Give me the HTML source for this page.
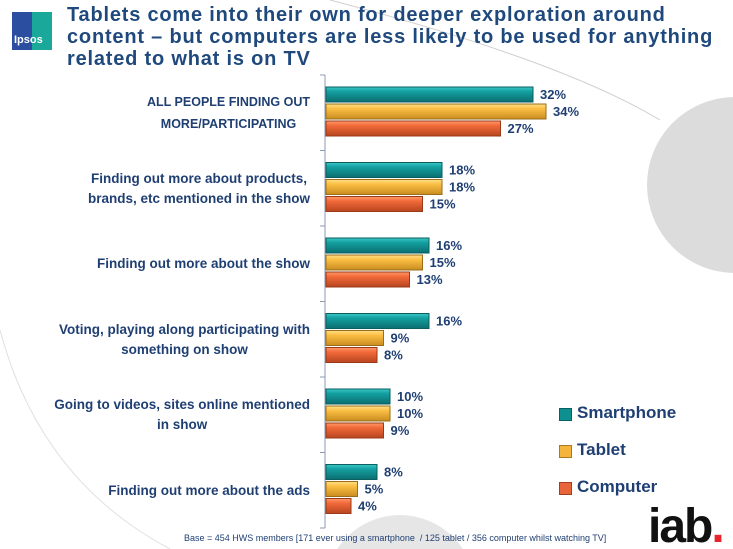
<!DOCTYPE html>
<html><head><meta charset="utf-8"><style>
body{margin:0;width:733px;height:549px;overflow:hidden;background:#fff;font-family:"Liberation Sans",sans-serif;position:relative}
.t{position:absolute;color:#1f3f73;font-weight:bold}
</style></head><body>
<svg width="733" height="549" style="position:absolute;left:0;top:0">
<circle cx="735" cy="185" r="88" fill="#dcdcdc"/>
<circle cx="400" cy="590" r="75" fill="#e6e6e6"/>
<path d="M330 0 Q560 60 660 120" stroke="#d0d0d0" fill="none" stroke-width="1"/>
<path d="M0 330 Q40 480 170 549" stroke="#e0e0e0" fill="none" stroke-width="1"/>
</svg>
<div style="position:absolute;left:12px;top:12px;width:40px;height:38px;background:linear-gradient(90deg,#2b4ea0 50%,#1aa89a 50%)"><span style="position:absolute;left:2px;top:22px;color:#fff;font-size:11px;font-weight:bold">Ipsos</span></div>
<div class="t" style="left:67px;top:4px;font-size:20px;letter-spacing:0.8px;line-height:22px;color:#1f497d;white-space:nowrap">Tablets come into their own for deeper exploration around<br>content – but computers are less likely to be used for anything<br>related to what is on TV</div>
<svg id="ch" width="733" height="549" style="position:absolute;left:0;top:0">
<defs>
<linearGradient id="g0" x1="0" y1="0" x2="0" y2="1"><stop offset="0" stop-color="#3cc7c7"/><stop offset=".3" stop-color="#14a0a0"/><stop offset="1" stop-color="#0b6e70"/></linearGradient>
<linearGradient id="g1" x1="0" y1="0" x2="0" y2="1"><stop offset="0" stop-color="#ffe08a"/><stop offset=".3" stop-color="#fcbf45"/><stop offset="1" stop-color="#c98d1f"/></linearGradient>
<linearGradient id="g2" x1="0" y1="0" x2="0" y2="1"><stop offset="0" stop-color="#ff9a6a"/><stop offset=".3" stop-color="#f26a3a"/><stop offset="1" stop-color="#b8451f"/></linearGradient>
</defs>
</svg>
<div id="labels"></div>
<div>
<div><div style="position:absolute;left:559px;top:408px;width:11px;height:11px;background:#0e8f90;border:1px solid #0a5f60"></div><div class="t" style="left:577px;top:403px;font-size:17px">Smartphone</div></div>
<div><div style="position:absolute;left:559px;top:445px;width:11px;height:11px;background:#f5b43c;border:1px solid #a87a20"></div><div class="t" style="left:577px;top:440px;font-size:17px">Tablet</div></div>
<div><div style="position:absolute;left:559px;top:482px;width:11px;height:11px;background:#e8643a;border:1px solid #a0401c"></div><div class="t" style="left:577px;top:477px;font-size:17px">Computer</div></div>
</div>
<div style="position:absolute;left:184px;top:533px;font-size:9px;line-height:11px;color:#1f3f73;white-space:nowrap">Base = 454 HWS members [171 ever using a smartphone &nbsp;/ 125 tablet / 356 computer whilst watching TV]</div>
<div style="position:absolute;left:648px;top:505px;height:44px;overflow:hidden;font-size:48px;font-weight:bold;color:#111;letter-spacing:-2px;line-height:44px">iab<span style="color:#e8242a">.</span></div>
<script>
const categories=["ALL PEOPLE FINDING OUT\nMORE/PARTICIPATING","Finding out more about products,\nbrands, etc mentioned in the show","Finding out more about the show","Voting, playing along participating with\nsomething on show","Going to videos, sites online mentioned\nin show","Finding out more about the ads"];
const smartphone=[32,18,16,16,10,8];
const tablet=[34,18,15,9,10,5];
const computer=[27,15,13,8,9,4];
const series=[smartphone,tablet,computer];
const seriesNames=["smartphone","tablet","computer"];
const x0=325,pxPer=6.5,top0=75,groupH=75.5;
const xs=v=>x0+v*pxPer;
const ys=(i,s)=>top0+i*groupH+12+s*17;
const svg=document.getElementById('ch'),NS="http://www.w3.org/2000/svg";
const lab=document.getElementById('labels');
const ax=document.createElementNS(NS,'line');


ax.setAttribute('x1',x0);ax.setAttribute('x2',x0);ax.setAttribute('y1',top0);ax.setAttribute('y2',top0+groupH*categories.length);
ax.setAttribute('stroke','#8a9bb0');svg.appendChild(ax);
for(let i=0;i<=categories.length;i++){const t=document.createElementNS(NS,'line');


const y=top0+i*groupH;t.setAttribute('x1',x0-5);t.setAttribute('x2',x0);t.setAttribute('y1',y);t.setAttribute('y2',y);t.setAttribute('stroke','#8a9bb0');svg.appendChild(t);}
categories.forEach((c,i)=>{
 const d=document.createElement('div');
 
 
 d.className='t';
 d.innerHTML=c.split('\n').join('<br>');
 const first=i===0;
 d.style.cssText=`right:${733-310}px;white-space:nowrap;text-align:center;top:${top0+i*groupH+38}px;transform:translateY(-50%);font-size:${first?12.5:13.5}px;line-height:${first?22:20}px`;
 lab.appendChild(d);
 series.forEach((arr,s)=>{
  const r=document.createElementNS(NS,'rect');
  
  
  r.setAttribute('x',x0+1);r.setAttribute('y',ys(i,s));r.setAttribute('width',xs(arr[i])-x0-1);r.setAttribute('height',15);
  r.setAttribute('fill','url(#g'+s+')');r.setAttribute('stroke',['#0a5f60','#9a6e1a','#9a3a18'][s]);r.setAttribute('stroke-width','1');
  svg.appendChild(r);
  const tx=document.createElementNS(NS,'text');
  
  
  tx.setAttribute('x',xs(arr[i])+7);tx.setAttribute('y',ys(i,s)+12);
  tx.setAttribute('font-size','13');tx.setAttribute('font-weight','bold');tx.setAttribute('fill','#1f3f73');
  tx.setAttribute('font-family','Liberation Sans, sans-serif');
  tx.textContent=arr[i]+'%';svg.appendChild(tx);
 });
});
</script>
</body></html>
